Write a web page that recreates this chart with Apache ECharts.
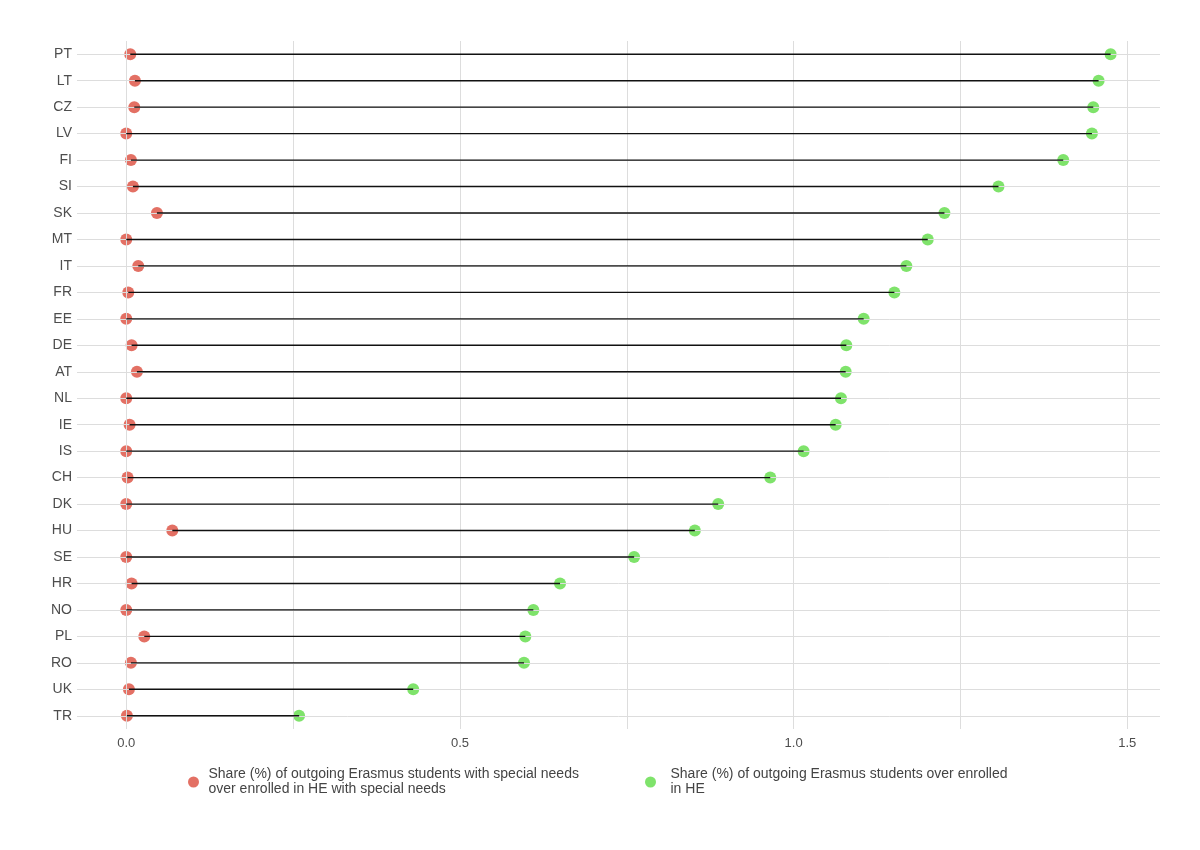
<!DOCTYPE html>
<html>
<head>
<meta charset="utf-8">
<script src="https://cdn.jsdelivr.net/npm/echarts@6/dist/echarts.min.js"></script>
<style>
html,body{margin:0;padding:0;background:#fff;}
#chart{width:1200px;height:850px;}
</style>
</head>
<body>
<div id="chart"></div>
<script>
const categories = ['PT','LT','CZ','LV','FI','SI','SK','MT','IT','FR','EE','DE','AT','NL','IE','IS','CH','DK','HU','SE','HR','NO','PL','RO','UK','TR'];
const specialNeedsShare = [0.006,0.013,0.012,0.0,0.007,0.010,0.046,0.0,0.018,0.003,0.0,0.008,0.016,0.0,0.005,0.0,0.002,0.0,0.069,0.0,0.008,0.0,0.027,0.007,0.004,0.001];
const allStudentsShare = [1.475,1.457,1.449,1.447,1.404,1.307,1.226,1.201,1.169,1.151,1.105,1.079,1.078,1.071,1.063,1.015,0.965,0.887,0.852,0.761,0.650,0.610,0.598,0.596,0.430,0.259];
const xGridValues = [0,0.25,0.5,0.75,1.0,1.25,1.5];
const xLabelValues = [0,0.5,1.0,1.5];
const seriesNames = [
  'Share (%) of outgoing Erasmus students with special needs\nover enrolled in HE with special needs',
  'Share (%) of outgoing Erasmus students over enrolled\nin HE'
];

const FONT = "'Liberation Sans Narrow','Arial Narrow','Liberation Sans',sans-serif";
const chart = echarts.init(document.getElementById('chart'));

const gridLines = xGridValues.map(v => ({xAxis: v})).concat(categories.map(c => ({yAxis: c})));

const option = {
  backgroundColor: '#ffffff',
  animation: false,
  textStyle: {fontFamily: FONT},
  grid: {left: 77, right: 40, top: 41, bottom: 121, containLabel: false},
  legend: [
    {
      data: [seriesNames[0]], left: 183, top: 762, icon: 'circle', itemWidth: 20, itemHeight: 11,
      textStyle: {fontFamily: FONT, fontSize: 14, lineHeight: 15, color: '#444444'}
    },
    {
      data: [seriesNames[1]], left: 640, top: 762, icon: 'circle', itemWidth: 30, itemHeight: 11,
      textStyle: {fontFamily: FONT, fontSize: 14, lineHeight: 15, color: '#444444'}
    }
  ],
  xAxis: {
    type: 'value', min: -0.0738, max: 1.549,
    axisLine: {show: false}, axisTick: {show: false}, splitLine: {show: false},
    axisLabel: {customValues: xLabelValues, formatter: v => Number(v).toFixed(1), color: '#4d4d4d', fontSize: 13, fontFamily: FONT, margin: 8}
  },
  yAxis: {
    type: 'category', data: categories, inverse: true, boundaryGap: true,
    axisLine: {show: false}, axisTick: {show: false}, splitLine: {show: false},
    axisLabel: {color: '#4d4d4d', fontSize: 14, fontFamily: FONT, margin: 5}
  },
  series: [
    {
      name: 'grid', type: 'line', data: [], silent: true, z: 0,
      markLine: {
        silent: true, symbol: ['none','none'], animation: false,
        label: {show: false},
        lineStyle: {color: '#dddddd', width: 1, type: 'solid'},
        emphasis: {disabled: true},
        data: gridLines
      }
    },
    {
      name: seriesNames[0], type: 'scatter', z: 3, symbolSize: 12,
      itemStyle: {color: '#e2685c', opacity: 0.95},
      data: specialNeedsShare.map((v, i) => [v, categories[i]])
    },
    {
      name: seriesNames[1], type: 'scatter', z: 3, symbolSize: 12,
      itemStyle: {color: '#78e263', opacity: 0.95},
      data: allStudentsShare.map((v, i) => [v, categories[i]])
    },
    {
      name: 'segments', type: 'custom', z: 5, silent: true,
      data: categories.map((c, i) => [specialNeedsShare[i], allStudentsShare[i], i]),
      renderItem: function (params, api) {
        const p1 = api.coord([api.value(0), api.value(2)]);
        const p2 = api.coord([api.value(1), api.value(2)]);
        return {type: 'line', shape: {x1: p1[0], y1: p1[1], x2: p2[0], y2: p2[1]}, style: {stroke: '#111111', lineWidth: 1.4}};
      }
    }
  ]
};
chart.setOption(option);
</script>
</body>
</html>
